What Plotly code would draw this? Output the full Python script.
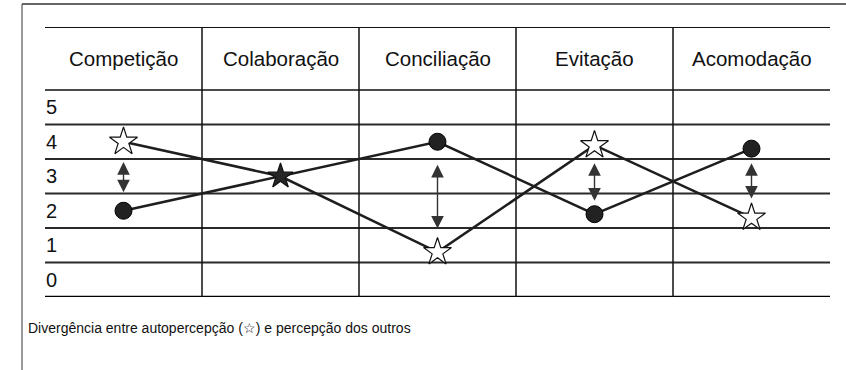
import plotly.graph_objects as go

# Conflict styles (columns) and scores
styles = ["Competição", "Colaboração", "Conciliação", "Evitação", "Acomodação"]
row_labels = ["0", "1", "2", "3", "4", "5"]
self_view = [4.0, 3.0, 0.8, 3.9, 1.8]      # autopercepção (estrela)
others_view = [2.0, 3.0, 4.0, 1.9, 3.8]    # percepção dos outros (círculo)
arrow_top = [3.41, None, 3.33, 3.38, 3.38]
arrow_bottom = [2.49, None, 1.44, 2.25, 2.31]
caption = "Divergência entre autopercepção (☆) e percepção dos outros"

W, H = 846, 370
L, R, T, B = 45, 16, 27, 73
plot_h = H - T - B
y_top = -0.5 + plot_h / 34.5          # header row sits above 5.5
header_y = (5.5 + y_top) / 2


def px_x(px):
    return (px - L) / (W - L - R)


def px_y(py):
    return (H - B - py) / plot_h


xs = list(range(len(styles)))
same = [a == b for a, b in zip(self_view, others_view)]
fig = go.Figure()

# percepção dos outros
fig.add_trace(go.Scatter(
    x=xs, y=others_view, mode="lines+markers",
    line=dict(color="#1e1e1e", width=2.5),
    marker=dict(symbol="circle", size=[0 if s else 17 for s in same], color="#222222",
                opacity=1, line=dict(color="#000", width=1)),
    hoverinfo="skip", showlegend=False))

# autopercepção
fig.add_trace(go.Scatter(
    x=xs, y=self_view, mode="lines+markers",
    line=dict(color="#1e1e1e", width=2.5),
    marker=dict(symbol="star", size=[19 if s else 21 for s in same],
                color=["#262626" if s else "white" for s in same],
                opacity=1, line=dict(color="#111", width=1.2)),
    hoverinfo="skip", showlegend=False))

shapes = []
# horizontal row lines
for v in [0.5, 1.5, 2.5, 3.5, 4.5]:
    shapes.append(dict(type="line", x0=-0.5, x1=len(styles) - 0.5, y0=v, y1=v,
                       line=dict(color="#2a2a2a", width=1.8), layer="below"))
shapes.append(dict(type="line", x0=-0.5, x1=len(styles) - 0.5, y0=5.5, y1=5.5,
                   line=dict(color="#111", width=1.5), layer="below"))
shapes.append(dict(type="line", x0=-0.5, x1=len(styles) - 0.5, y0=y_top - 0.01, y1=y_top - 0.01,
                   line=dict(color="#111", width=1.5), layer="below"))
shapes.append(dict(type="line", x0=-0.5, x1=len(styles) - 0.5, y0=-0.5, y1=-0.5,
                   line=dict(color="#000", width=2.5), layer="below"))
# column dividers
for i in range(len(styles) - 1):
    shapes.append(dict(type="line", x0=i + 0.5, x1=i + 0.5, y0=-0.5, y1=y_top,
                       line=dict(color="#111", width=1.5), layer="below"))
# outer frame (top and left)
shapes.append(dict(type="line", xref="paper", yref="paper",
                   x0=px_x(22), x1=px_x(846), y0=px_y(4), y1=px_y(4),
                   line=dict(color="#333", width=1.5)))
shapes.append(dict(type="line", xref="paper", yref="paper",
                   x0=px_x(22), x1=px_x(22), y0=px_y(4), y1=px_y(370),
                   line=dict(color="#555", width=1.2)))

annotations = []
for i, s in enumerate(styles):
    annotations.append(dict(x=i, y=header_y, text=s, showarrow=False,
                            font=dict(family="Liberation Sans, Arial", size=20.5, color="#111")))
for i, lab in enumerate(row_labels):
    annotations.append(dict(x=-0.5, y=i, text=lab, showarrow=False, xanchor="left",
                            xshift=-1, font=dict(family="Liberation Sans, Arial", size=20, color="#111")))
for i in xs:
    if arrow_top[i] is None:
        continue
    annotations.append(dict(x=i, y=arrow_top[i], ax=i, ay=arrow_bottom[i],
                            xref="x", yref="y", axref="x", ayref="y", text="",
                            showarrow=True, arrowside="end+start", arrowhead=2,
                            arrowsize=1.8, arrowwidth=1.4, arrowcolor="#333"))
annotations.append(dict(xref="paper", yref="paper", x=px_x(26), y=px_y(328),
                        xanchor="left", yanchor="middle", text=caption, showarrow=False,
                        font=dict(family="Liberation Sans, Arial", size=14, color="#111")))

fig.update_layout(
    width=W, height=H,
    margin=dict(l=L, r=R, t=T, b=B),
    paper_bgcolor="white", plot_bgcolor="white",
    xaxis=dict(range=[-0.5, len(styles) - 0.5], visible=False, fixedrange=True),
    yaxis=dict(range=[-0.5, y_top], visible=False, fixedrange=True),
    shapes=shapes, annotations=annotations,
)

# drop the default 8px body margin so the figure sits at the window's corner
fig.write_html("out.html", config={"displayModeBar": False},
               post_script="document.body.style.margin='0';")
